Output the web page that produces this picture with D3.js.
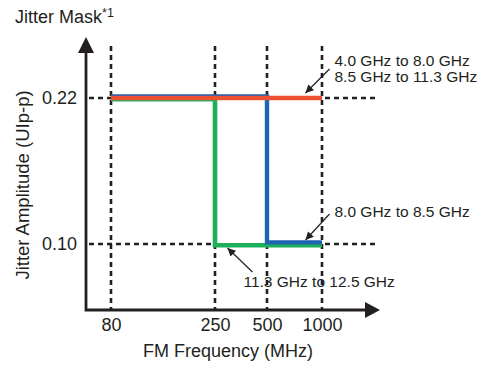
<!DOCTYPE html>
<html>
<head>
<meta charset="utf-8">
<script src="https://cdn.jsdelivr.net/npm/d3@7"></script>
<style>
  body { margin: 0; background: #fff; }
  text { font-family: "Liberation Sans", Arial, Helvetica, sans-serif; fill: #231f20; }
</style>
</head>
<body>
<script>
// tick values
const freqTicks = [80, 250, 500, 1000];
const ampTicks = [0.10, 0.22];

// each mask: list of [FM frequency (MHz), jitter amplitude (UIp-p)] corners
const greenMask = [[80, 0.22], [250, 0.22], [250, 0.10], [1000, 0.10]];
const blueMask = [[80, 0.22], [500, 0.22], [500, 0.10], [1000, 0.10]];
const redMask = [[80, 0.22], [1000, 0.22]];

const maskNames = ['11.3 GHz to 12.5 GHz', '8.0 GHz to 8.5 GHz', '4.0 GHz to 8.0 GHz / 8.5 GHz to 11.3 GHz'];

const width = 485, height = 365;
const axisX = 86, axisY = 310;   // origin of the arrow axes
const xEnd = 380, yEnd = 37;

const svg = d3.select('body')
  .append('svg')
  .attr('width', width)
  .attr('height', height);

// the x axis of the figure is drawn schematically, not to a true log spacing
let x = d3.scaleLinear()
  .domain(freqTicks)
  .range([111, 215, 267, 322]);

let y = d3.scaleLinear()
  .domain([0.10, 0.22])
  .range([244, 98]);

// dashed guides
svg.selectAll('.vguide')
  .data(freqTicks)
  .enter()
  .append('line')
  .attr('class', 'vguide')
  .attr('x1', d => x(d))
  .attr('x2', d => x(d))
  .attr('y1', 46)
  .attr('y2', axisY)
  .attr('stroke', '#231f20')
  .attr('stroke-width', 2.6)
  .attr('stroke-dasharray', '5,4');

// horizontal guides only where no mask line runs over them
const allPts = greenMask.concat(blueMask, redMask);
const fMax = d3.max(freqTicks);
let hSegs = [];
ampTicks.forEach(function (a) {
  let f0 = d3.min(allPts.filter(p => p[1] === a), p => p[0]);
  hSegs.push({ a: a, x1: axisX + 3, x2: x(f0) });
  hSegs.push({ a: a, x1: x(fMax) + 3, x2: 376 });
});

svg.selectAll('.hguide')
  .data(hSegs)
  .enter()
  .append('line')
  .attr('class', 'hguide')
  .attr('x1', d => d.x1)
  .attr('x2', d => d.x2)
  .attr('y1', d => y(d.a))
  .attr('y2', d => y(d.a))
  .attr('stroke', '#231f20')
  .attr('stroke-width', 2.4)
  .attr('stroke-dasharray', '5,4');

// mask lines: green under blue under red, slightly offset like the original
let line = d3.line()
  .x(d => x(d[0]))
  .y(d => y(d[1]));

const masks = [
  { pts: greenMask, color: '#1cb05a', off: 1.2, w: 4.6 },
  { pts: blueMask, color: '#1f64b3', off: -1.6, w: 4.4 },
  { pts: redMask, color: '#eb5130', off: 0, w: 4.4 }
];

svg.selectAll('.mask')
  .data(masks)
  .enter()
  .append('path')
  .attr('class', 'mask')
  .attr('transform', d => 'translate(0,' + d.off + ')')
  .attr('d', d => line(d.pts))
  .attr('fill', 'none')
  .attr('stroke', d => d.color)
  .attr('stroke-width', d => d.w)
  .attr('stroke-linejoin', 'miter')
  .append('title')
  .text((d, i) => maskNames[i]);

// arrow axes
svg.append('path')
  .attr('d', 'M' + axisX + ',' + (yEnd + 10) + 'V' + axisY + 'H' + (xEnd - 10))
  .attr('fill', 'none')
  .attr('stroke', '#231f20')
  .attr('stroke-width', 2.8);

svg.append('path')
  .attr('d', 'M' + axisX + ',' + yEnd + 'l-8,16h16z')
  .attr('fill', '#231f20');

svg.append('path')
  .attr('d', 'M' + xEnd + ',' + axisY + 'l-15,-8v16z')
  .attr('fill', '#231f20');

// tick labels through d3 axes, without their own domain lines
let xAxis = d3.axisBottom(x)
  .tickValues(freqTicks)
  .tickFormat(d3.format('d'))
  .tickSize(0)
  .tickPadding(8);

let yAxis = d3.axisLeft(y)
  .tickValues(ampTicks)
  .tickFormat(d3.format('.2f'))
  .tickSize(0)
  .tickPadding(9);

svg.append('g')
  .attr('transform', 'translate(0,' + axisY + ')')
  .call(xAxis)
  .call(g => g.select('.domain').remove())
  .selectAll('text')
  .style('font-size', '18px')
  .attr('fill', '#231f20');

svg.append('g')
  .attr('transform', 'translate(' + axisX + ',0)')
  .call(yAxis)
  .call(g => g.select('.domain').remove())
  .selectAll('text')
  .style('font-size', '18px')
  .attr('fill', '#231f20');

// titles
let title = svg.append('text')
  .attr('x', 15)
  .attr('y', 23)
  .style('font-size', '18px');
title.append('tspan').text('Jitter Mask');
title.append('tspan')
  .attr('dy', -6)
  .style('font-size', '12.5px')
  .text('*1');

svg.append('text')
  .attr('x', 228)
  .attr('y', 357)
  .attr('text-anchor', 'middle')
  .style('font-size', '18px')
  .text('FM Frequency (MHz)');

svg.append('text')
  .attr('transform', 'translate(29,185) rotate(-90)')
  .attr('text-anchor', 'middle')
  .style('font-size', '18.5px')
  .text('Jitter Amplitude (UIp-p)');

// callouts: arrow tip at a point on the mask, text placed relative to it
const callouts = [
  { lines: ['4.0 GHz to 8.0 GHz', '8.5 GHz to 11.3 GHz'], f: 850, a: 0.22, tip: -5, tail: [24, -24], text: [29, -27] },
  { lines: ['8.0 GHz to 8.5 GHz'], f: 850, a: 0.10, tip: -4, tail: [24, -26], text: [29, -23] },
  { lines: ['11.3 GHz to 12.5 GHz'], f: 310, a: 0.10, tip: 4, tail: [25, 24], text: [16, 39] }
];

svg.append('defs')
  .append('marker')
  .attr('id', 'head')
  .attr('viewBox', '0 0 10 10')
  .attr('refX', 10)
  .attr('refY', 5)
  .attr('markerWidth', 10)
  .attr('markerHeight', 8)
  .attr('markerUnits', 'userSpaceOnUse')
  .attr('orient', 'auto')
  .append('path')
  .attr('d', 'M0,0L10,5L0,10z')
  .attr('fill', '#231f20');

callouts.forEach(function (c) {
  let tx = x(c.f), ty = y(c.a) + c.tip;
  svg.append('line')
    .attr('x1', tx + c.tail[0])
    .attr('y1', ty + c.tail[1])
    .attr('x2', tx)
    .attr('y2', ty)
    .attr('stroke', '#231f20')
    .attr('stroke-width', 1.2)
    .attr('marker-end', 'url(#head)');
  let t = svg.append('text')
    .attr('x', tx + c.text[0])
    .attr('y', ty + c.text[1])
    .style('font-size', '15.5px');
  c.lines.forEach(function (s, i) {
    t.append('tspan')
      .attr('x', tx + c.text[0])
      .attr('dy', i ? 16 : 0)
      .text(s);
  });
});
</script>
</body>
</html>
